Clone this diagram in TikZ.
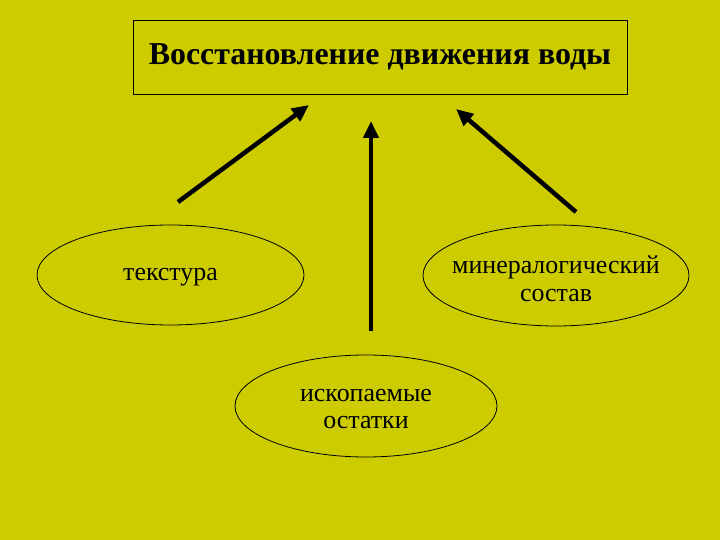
\documentclass[tikz,border=0pt]{standalone}
\usepackage{fontspec}
\setmainfont{Liberation Serif}
\usetikzlibrary{shapes.geometric,arrows.meta}
\definecolor{slidebg}{RGB}{204,204,0}
\tikzset{
  oval/.style={draw,ellipse,line width=0.8bp,inner sep=0pt},
  ovaltext/.style={align=center,inner sep=0pt,font=\fontsize{26}{28}\selectfont},
  uparrow/.style={line width=4.5bp,-{Triangle[length=17bp,width=15bp]}}
}
\begin{document}
\begin{tikzpicture}[x=1bp,y=-1bp]
\fill[slidebg] (0,0) rectangle (720,540);
\useasboundingbox (0,0) rectangle (720,540);

\node[draw,line width=0.8bp,minimum width=494bp,minimum height=74bp,font=\fontsize{32}{36}\selectfont\bfseries] (title) at (380,57) {Восстановление движения воды};

% ovals, text set on top
\node[oval,minimum width=267bp,minimum height=100bp] (tex) at (170.5,275) {};
\node[oval,minimum width=266bp,minimum height=101bp] (min) at (556,275.5) {};
\node[oval,minimum width=262bp,minimum height=102bp] (fos) at (366,406) {};
\node[ovaltext] (texlbl) at (170.5,277) {текстура};
\node[ovaltext] (minlbl) at (556,279) {минералогический\\состав};
\node[ovaltext] (foslbl) at (366,409) {ископаемые\\остатки};

\coordinate (t1) at (178,202);
\coordinate (h1) at (309,105);
\coordinate (t2) at (371,331);
\coordinate (h2) at (371,121);
\coordinate (t3) at (576,212);
\coordinate (h3) at (456,109);

\draw[uparrow] (t1) -- (h1);
\draw[uparrow] (t2) -- (h2);
\draw[uparrow] (t3) -- (h3);
\end{tikzpicture}
\end{document}
